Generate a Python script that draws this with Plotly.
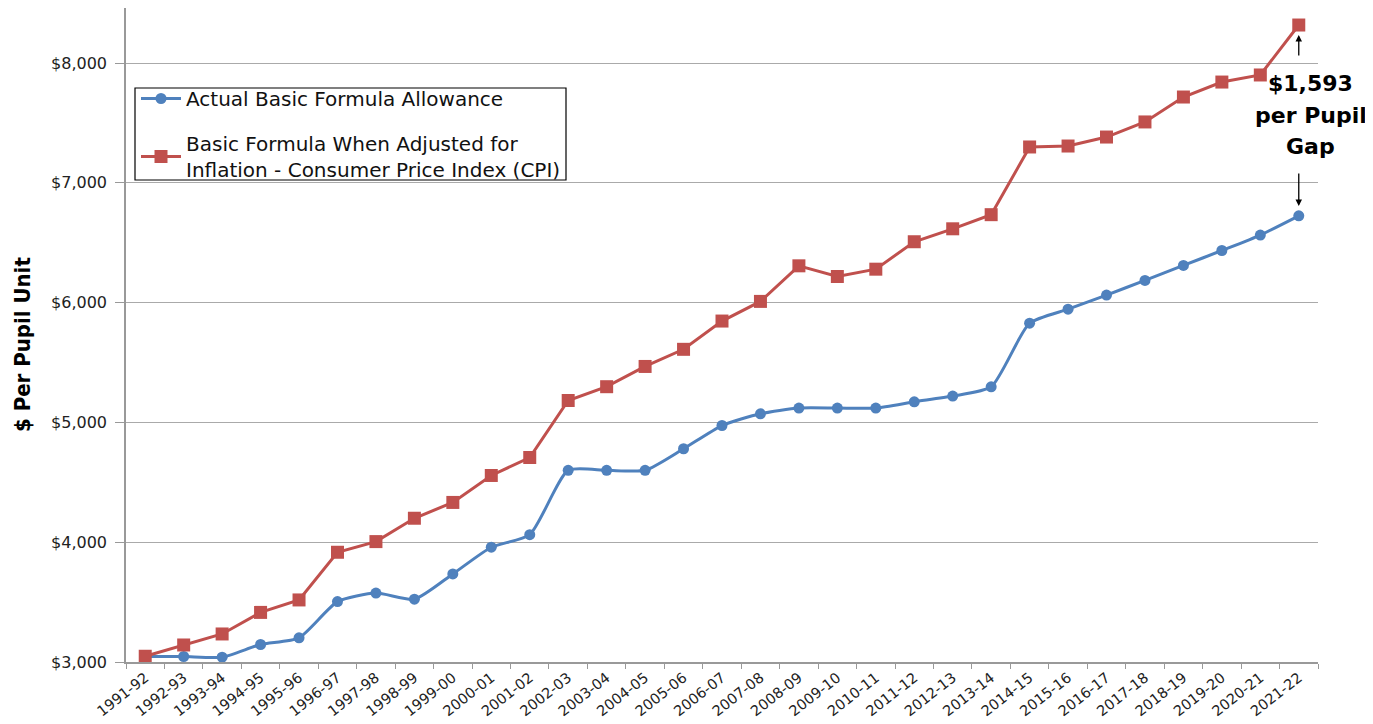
import plotly.graph_objects as go

years = ["1991-92", "1992-93", "1993-94", "1994-95", "1995-96", "1996-97", "1997-98",
         "1998-99", "1999-00", "2000-01", "2001-02", "2002-03", "2003-04", "2004-05",
         "2005-06", "2006-07", "2007-08", "2008-09", "2009-10", "2010-11", "2011-12",
         "2012-13", "2013-14", "2014-15", "2015-16", "2016-17", "2017-18", "2018-19",
         "2019-20", "2020-21", "2021-22"]

actual = [3046, 3046, 3040, 3146, 3202, 3504, 3575, 3524, 3735, 3958, 4063, 4600, 4600,
          4600, 4780, 4974, 5072, 5120, 5120, 5120, 5172, 5220, 5297, 5828, 5945, 6063,
          6185, 6310, 6435, 6564, 6724]

cpi = [3048, 3142, 3234, 3414, 3518, 3916, 4005, 4200, 4332, 4557, 4707, 5183, 5298,
       5467, 5610, 5846, 6010, 6307, 6218, 6279, 6508, 6616, 6734, 7299, 7307, 7382,
       7508, 7716, 7841, 7900, 8317]

y_ticks = [3000, 4000, 5000, 6000, 7000, 8000]
y_tick_labels = ["$3,000", "$4,000", "$5,000", "$6,000", "$7,000", "$8,000"]

gap_lines = ["$1,593", "per Pupil", "Gap"]

BLUE = "#4F81BD"
RED = "#C0504D"
FONT = "DejaVu Sans"

# pixel helpers (page has an 8px body margin)
W, H = 1365, 716
LEFT, RIGHT = 126, 1318
TOP, BOT = 8, 662
PX_PER_UNIT = 119.8 / 1000.0
Y_MAX = 3000 + (BOT - TOP) / PX_PER_UNIT


def y_at(py):
    return 3000 + (BOT - py) / PX_PER_UNIT


def px_x(px):
    return (px - LEFT) / (RIGHT - LEFT)


def px_y(py):
    return (BOT - py) / (BOT - TOP)


fig = go.Figure()
fig.add_trace(go.Scatter(
    x=years, y=actual, mode="lines+markers",
    name="Actual Basic Formula Allowance", legendgroup="a",
    line=dict(color=BLUE, width=3, shape="spline", smoothing=0.6),
    marker=dict(symbol="circle", size=11, color=BLUE),
))
fig.add_trace(go.Scatter(
    x=years, y=cpi, mode="lines+markers",
    name="Basic Formula When Adjusted for<br>Inflation - Consumer Price Index (CPI)",
    legendgroup="b",
    line=dict(color=RED, width=3),
    marker=dict(symbol="square", size=13, color=RED),
))

# arrows
fig.add_annotation(x=years[-1], y=y_at(35), ax=0, ay=22, text="", showarrow=True,
                   arrowhead=2, arrowsize=1, arrowwidth=1.3, arrowcolor="black")
fig.add_annotation(x=years[-1], y=y_at(206), ax=0, ay=-34, text="", showarrow=True,
                   arrowhead=2, arrowsize=1, arrowwidth=1.3, arrowcolor="black")

for txt, py in zip(gap_lines, [83, 115, 146]):
    fig.add_annotation(x=years[-1], xshift=12, y=y_at(py),
                       text=f"<b>{txt}</b>", showarrow=False,
                       xanchor="center", yanchor="middle",
                       font=dict(family=FONT, size=22, color="black"))

# y axis title
fig.add_annotation(xref="paper", yref="paper", x=0, xshift=22 - LEFT,
                   y=px_y(345), xanchor="center", yanchor="middle",
                   text="<b>$ Per Pupil Unit</b>", textangle=-90, showarrow=False,
                   font=dict(family="DejaVu Sans Condensed, DejaVu Sans", size=22,
                             color="black"))

# legend frame
fig.add_shape(type="rect", xref="paper", yref="paper",
              x0=px_x(135), x1=px_x(566), y0=px_y(180), y1=px_y(88),
              line=dict(color="black", width=1.2), fillcolor="white", layer="below")

fig.update_layout(
    width=W, height=H,
    margin=dict(l=LEFT - 8, r=W + 8 - RIGHT, t=0, b=H + 8 - BOT),
    paper_bgcolor="white", plot_bgcolor="white",
    font=dict(family=FONT, color="#222222"),
    showlegend=True,
    legend=dict(x=px_x(136), y=px_y(79),
                xanchor="left", yanchor="top",
                borderwidth=0, bgcolor="rgba(0,0,0,0)",
                font=dict(family=FONT, size=20, color="#111111"),
                traceorder="grouped", tracegroupgap=16, itemwidth=40),
)
fig.update_xaxes(
    type="category", range=[-0.5, 30.5],
    showgrid=False, showline=True, linecolor="#999999", linewidth=1.5,
    ticks="outside", tickson="boundaries", ticklen=5, tickcolor="#999999",
    tickangle=-38, tickfont=dict(family=FONT, size=14.5, color="#222222"),
)
fig.update_yaxes(
    range=[3000, Y_MAX], tickvals=y_ticks, ticktext=y_tick_labels,
    showgrid=True, gridcolor="#AAAAAA", gridwidth=1.2,
    showline=True, linecolor="#999999", linewidth=1.5,
    ticks="outside", ticklen=9, tickcolor="#999999", ticklabelstandoff=5,
    tickfont=dict(family=FONT, size=16, color="#222222"),
    zeroline=False,
)

fig.write_html("out.html")
